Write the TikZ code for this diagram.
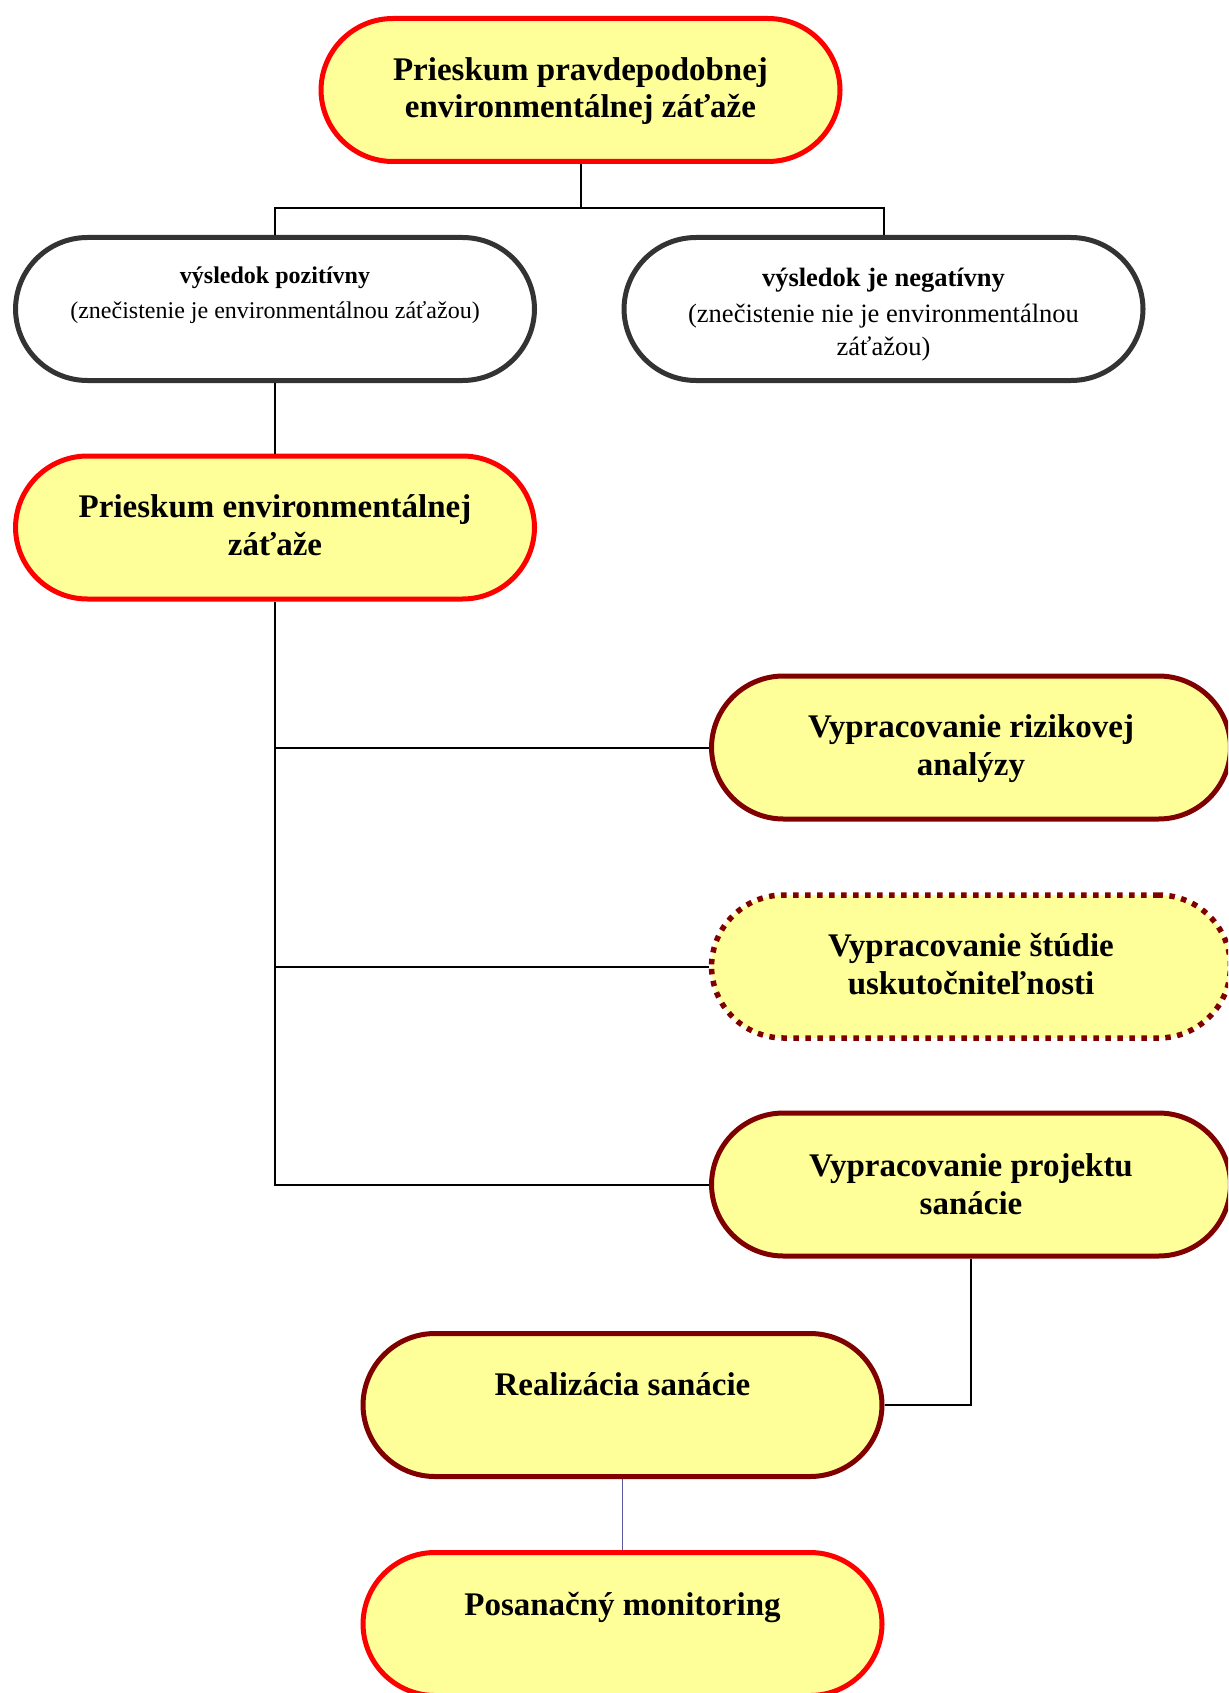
\documentclass[tikz,border=0pt]{standalone}
\usepackage{fontspec}
\setmainfont{Liberation Serif}
\definecolor{boxyellow}{RGB}{255,255,153}
\definecolor{boxred}{RGB}{255,0,0}
\definecolor{boxdark}{RGB}{128,0,0}
\definecolor{boxgray}{RGB}{51,51,51}
\definecolor{linkblue}{RGB}{90,90,160}
\begin{document}
\begin{tikzpicture}[x=1pt,y=-1pt,
  pill/.style={draw, rectangle, rounded corners=72pt, line width=5pt,
    minimum width=519pt, minimum height=143pt, inner sep=0pt},
  redpill/.style={pill, draw=boxred, fill=boxyellow},
  darkpill/.style={pill, draw=boxdark, fill=boxyellow},
  dotpill/.style={pill, draw=boxdark, fill=boxyellow, line width=5.5pt, dash pattern=on 5.5pt off 6.5pt},
  graypill/.style={pill, draw=boxgray, fill=white},
  big/.style={anchor=base, inner sep=0pt, font=\fontsize{33}{37}\selectfont\bfseries},
  smallb/.style={anchor=base, inner sep=0pt, font=\fontsize{24}{28}\selectfont\bfseries},
  smallr/.style={anchor=base, inner sep=0pt, font=\fontsize{24}{28}\selectfont},
  midb/.style={anchor=base, inner sep=0pt, font=\fontsize{26.5}{30}\selectfont\bfseries},
  midr/.style={anchor=base, inner sep=0pt, font=\fontsize{26.5}{30}\selectfont},
  link/.style={draw=black, line width=2pt}
]
\useasboundingbox (0,0) rectangle (1228,1693);
\clip (0,0) rectangle (1228,1693);
\fill[white] (0,0) rectangle (1228,1693);

% shapes
\node[redpill]  (top)    at (580.5,90)   {};
\node[graypill] (pos)    at (275,309)    {};
\node[graypill] (neg)    at (883.5,309)  {};
\node[redpill]  (env)    at (275,527.5)  {};
\node[darkpill] (riz)    at (971,747.5)  {};
\node[dotpill]  (stud)   at (971,966.5)  {};
\node[darkpill] (proj)   at (971,1184.5) {};
\node[darkpill] (realiz) at (622.5,1405) {};
\node[redpill]  (posan)  at (622.5,1624) {};

% texts
\node[big] (topa) at (580.5,81)  {Prieskum pravdepodobnej};
\node[big] (topb) at (580.5,118) {environmentálnej záťaže};
\node[smallb] (posa) at (275,284) {výsledok pozitívny};
\node[smallr] (posb) at (275,319) {(znečistenie je environmentálnou záťažou)};
\node[midb] (nega) at (883.5,287) {výsledok je negatívny};
\node[midr] (negb) at (883.5,323) {(znečistenie nie je environmentálnou};
\node[midr] (negc) at (883.5,355) {záťažou)};
\node[big] (enva) at (275,517) {Prieskum environmentálnej};
\node[big] (envb) at (275,555) {záťaže};
\node[big] (riza) at (971,737) {Vypracovanie rizikovej};
\node[big] (rizb) at (971,775) {analýzy};
\node[big] (studa) at (971,956) {Vypracovanie štúdie};
\node[big] (studb) at (971,994) {uskutočniteľnosti};
\node[big] (proja) at (971,1176) {Vypracovanie projektu};
\node[big] (projb) at (971,1214) {sanácie};
\node[big] (realiza) at (622.5,1395) {Realizácia sanácie};
\node[big] (posana) at (622.5,1615) {Posanačný monitoring};

% connectors
\coordinate (j1) at (580.5,208);
\draw[link] (top.south) -- (j1);
\draw[link] (pos.north) |- (j1) -| (neg.north);
\draw[link] (pos.south) -- (env.north);
\draw[link] (env.south) -- (env.south |- proj.west) -- (proj.west);
\draw[link] (env.south |- riz.west) -- (riz.west);
\draw[link] (env.south |- stud.west) -- (stud.west);
\draw[link] (proj.south) |- (realiz.east);
\draw[draw=linkblue, line width=1.5pt] (realiz.south) -- (posan.north);
\end{tikzpicture}
\end{document}
